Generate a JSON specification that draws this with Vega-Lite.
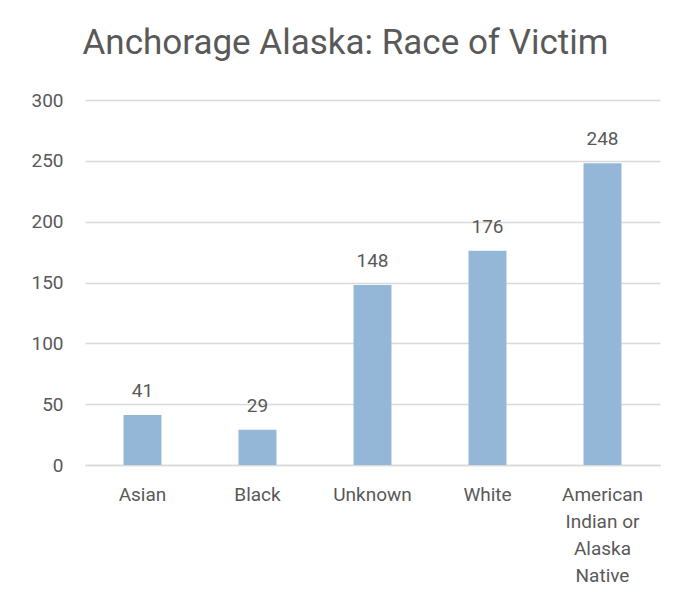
{
  "$schema": "https://vega.github.io/schema/vega-lite/v6.json",
  "autosize": "none",
  "width": 575,
  "height": 365,
  "padding": {"left": 85, "top": 100, "right": 23, "bottom": 137},
  "background": "white",
  "title": {
    "text": "Anchorage Alaska: Race of Victim",
    "fontSize": 35,
    "font": "Roboto",
    "fontWeight": "normal",
    "color": "#595959",
    "anchor": "middle",
    "dx": -27,
    "offset": 30
  },
  "data": {
    "values": [
      {"race": "Asian", "count": 41},
      {"race": "Black", "count": 29},
      {"race": "Unknown", "count": 148},
      {"race": "White", "count": 176},
      {"race": "American Indian or Alaska Native", "count": 248}
    ]
  },
  "config": {
    "view": {"stroke": null},
    "font": "Roboto"
  },
  "encoding": {
    "x": {
      "field": "race",
      "type": "nominal",
      "sort": null,
      "scale": {"paddingInner": 0.67, "paddingOuter": 0.335},
      "axis": {
        "title": null,
        "labelAngle": 0,
        "labelFont": "Roboto",
        "labelFontSize": 19,
        "labelColor": "#595959",
        "labelPadding": 20,
        "labelLineHeight": 27,
        "ticks": false,
        "domainColor": "#d9d9d9",
        "domainWidth": 1.5,
        "labelExpr": "datum.label == 'American Indian or Alaska Native' ? ['American', 'Indian or', 'Alaska', 'Native'] : datum.label"
      }
    },
    "y": {
      "field": "count",
      "type": "quantitative",
      "scale": {"domain": [0, 300]},
      "axis": {
        "title": null,
        "values": [0, 50, 100, 150, 200, 250, 300],
        "labelFont": "Roboto",
        "labelFontSize": 19,
        "labelColor": "#595959",
        "labelPadding": 22,
        "ticks": false,
        "domain": false,
        "gridColor": "#d9d9d9",
        "gridWidth": 1.5
      }
    }
  },
  "layer": [
    {"mark": {"type": "bar", "color": "#95B7D7"}},
    {
      "mark": {"type": "text", "baseline": "bottom", "dy": -14, "fontSize": 19, "font": "Roboto", "color": "#595959"},
      "encoding": {"text": {"field": "count", "type": "quantitative"}}
    }
  ]
}
